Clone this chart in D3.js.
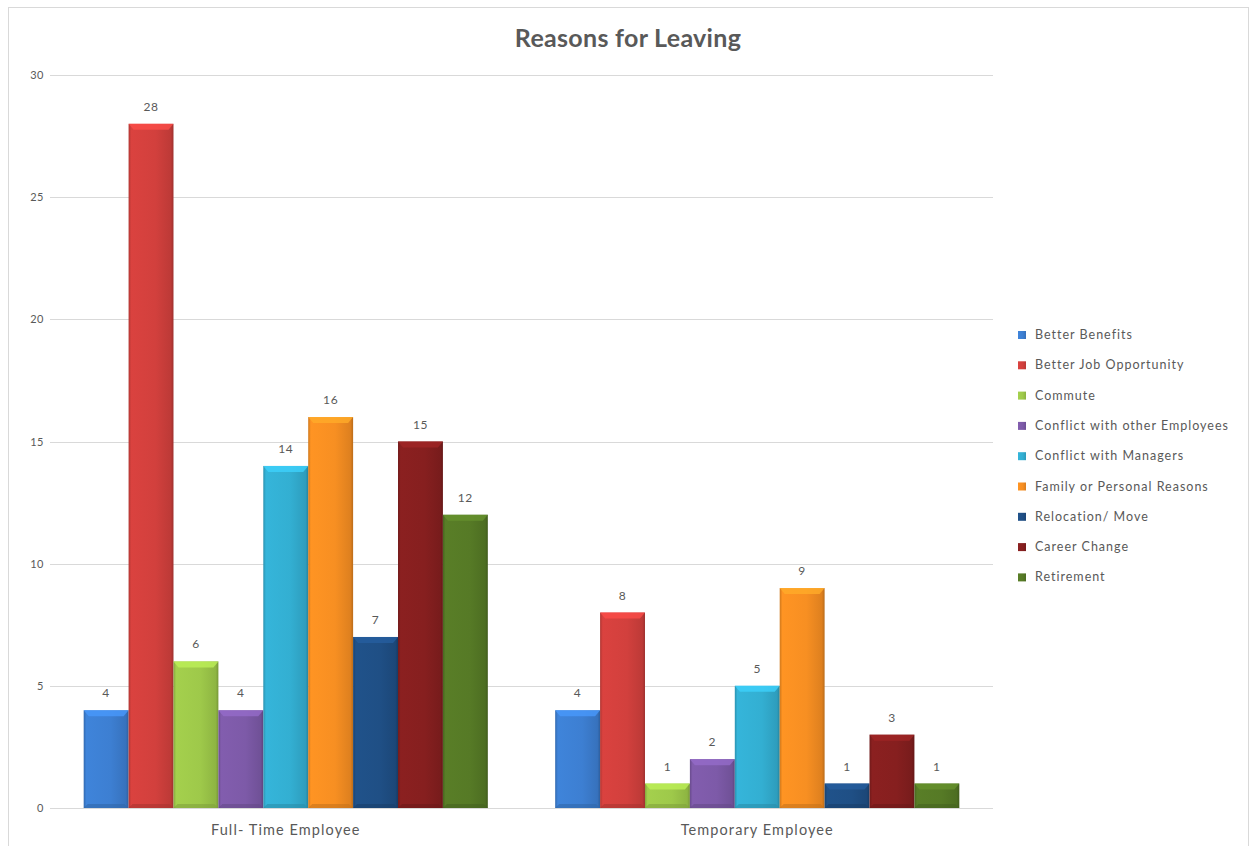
<!DOCTYPE html>
<html lang="en">
<head>
<meta charset="UTF-8">
<title>Reasons for Leaving</title>
<script src="https://cdn.jsdelivr.net/npm/d3@7"></script>
<style>
    body{ margin:0px; background:white; }
    text{ font-family: Lato, "Open Sans", sans-serif; }
</style>
</head>
<body>
<svg id="chart"></svg>
<script>
    const w = 1250, h = 846;

    // data
    const categories = ['Full- Time Employee', 'Temporary Employee'];
    const reasons = ['Better Benefits', 'Better Job Opportunity', 'Commute', 'Conflict with other Employees',
        'Conflict with Managers', 'Family or Personal Reasons', 'Relocation/ Move', 'Career Change', 'Retirement'];
    const fullTime = [4, 28, 6, 4, 14, 16, 7, 15, 12];
    const temporary = [4, 8, 1, 2, 5, 9, 1, 3, 1];
    const colors = ['#3d7fd2', '#d2403d', '#9ec94a', '#7d5aa8', '#33afd2', '#f78f22', '#1f4f85', '#861f1f', '#567a26'];
    const yTicks = [0, 5, 10, 15, 20, 25, 30];

    const series = [fullTime, temporary];

    const svg = d3.select('#chart').attr('width', w).attr('height', h);
    svg.append('rect').attr('x', 0).attr('y', 0).attr('width', w).attr('height', h).attr('fill', 'white');
    // chart border
    svg.append('rect').attr('x', 8.5).attr('y', 7.5).attr('width', w - 10).attr('height', h + 10)
        .attr('fill', 'none').attr('stroke', '#d9d9d9');

    const defs = svg.append('defs');
    colors.forEach(function(c, i){
        let g = defs.append('linearGradient').attr('id', 'grad' + i).attr('x1', 0).attr('x2', 1).attr('y1', 0).attr('y2', 0);
        let dark = d3.color(c).darker(0.5), light = d3.color(c).brighter(0.1);
        g.append('stop').attr('offset', '0%').attr('stop-color', dark);
        g.append('stop').attr('offset', '6%').attr('stop-color', light);
        g.append('stop').attr('offset', '60%').attr('stop-color', c);
        g.append('stop').attr('offset', '94%').attr('stop-color', d3.color(c).darker(0.3));
        g.append('stop').attr('offset', '100%').attr('stop-color', d3.color(c).darker(0.8));
    });

    const plot = {left: 50, right: 993, top: 75, bottom: 808};

    const x0 = d3.scaleBand().domain(categories).range([plot.left, plot.right]).paddingInner(0).paddingOuter(0);
    const x1 = d3.scaleBand().domain(reasons).range([0, x0.bandwidth()]).paddingOuter(0.75);
    const y = d3.scaleLinear().domain([0, 30]).range([plot.bottom, plot.top]);

    // gridlines
    svg.append('g').selectAll('line').data(yTicks).join('line')
        .attr('x1', plot.left).attr('x2', plot.right)
        .attr('y1', d => Math.round(y(d)) + 0.5).attr('y2', d => Math.round(y(d)) + 0.5)
        .attr('stroke', '#d9d9d9').attr('stroke-width', 1.2);

    // y axis labels
    const yAxis = d3.axisLeft(y).tickValues(yTicks).tickSize(0).tickPadding(6);
    const yg = svg.append('g').attr('transform', 'translate(' + plot.left + ',0)').call(yAxis);
    yg.select('.domain').remove();
    yg.selectAll('text').attr('font-size', '11px').attr('fill', '#595959').attr('letter-spacing', '0.5px');

    // x axis labels
    const xAxis = d3.axisBottom(x0).tickSize(0).tickPadding(17);
    const xg = svg.append('g').attr('transform', 'translate(0,' + plot.bottom + ')').call(xAxis);
    xg.select('.domain').remove();
    xg.selectAll('text').attr('font-size', '14.5px').attr('fill', '#595959').attr('letter-spacing', '1.1px');

    // bars
    const groups = svg.append('g').selectAll('g').data(categories).join('g')
        .attr('transform', d => 'translate(' + x0(d) + ',0)');

    groups.each(function(cat, ci){
        const g = d3.select(this);
        const vals = reasons.map((r, i) => ({r: r, i: i, v: series[ci][i]}));
        const bw = x1.bandwidth();
        const bars = g.selectAll('g.bar').data(vals).join('g').attr('class', 'bar');
        bars.append('rect')
            .attr('x', d => x1(d.r)).attr('y', d => y(d.v))
            .attr('width', bw).attr('height', d => y(0) - y(d.v))
            .attr('fill', d => 'url(#grad' + d.i + ')');
        // top bevel
        bars.append('path')
            .attr('d', function(d){
                let x = x1(d.r), t = y(d.v);
                return 'M' + x + ',' + t + 'L' + (x + bw) + ',' + t + 'L' + (x + bw - 5) + ',' + (t + 6) +
                    'L' + (x + 5) + ',' + (t + 6) + 'Z';
            })
            .attr('fill', d => d3.color(colors[d.i]).brighter(0.5)).attr('opacity', 0.8);
        // bottom bevel
        bars.append('path')
            .attr('d', function(d){
                let x = x1(d.r), b = y(0);
                return 'M' + x + ',' + b + 'L' + (x + bw) + ',' + b + 'L' + (x + bw - 4) + ',' + (b - 4) +
                    'L' + (x + 4) + ',' + (b - 4) + 'Z';
            })
            .attr('fill', d => d3.color(colors[d.i]).darker(0.6)).attr('opacity', 0.6);
        // value labels
        bars.append('text')
            .attr('x', d => x1(d.r) + bw / 2).attr('y', d => y(d.v) - 13)
            .attr('text-anchor', 'middle').attr('font-size', '12px').attr('fill', '#595959')
            .attr('letter-spacing', '0.6px')
            .text(d => d.v);
    });

    // title
    svg.append('text').attr('x', 628).attr('y', 47).attr('text-anchor', 'middle')
        .attr('font-size', '25px').attr('font-weight', 'bold').attr('fill', '#595959')
        .attr('letter-spacing', '0.3px')
        .text('Reasons for Leaving');

    // legend
    const leg = svg.append('g').selectAll('g').data(reasons).join('g')
        .attr('transform', (d, i) => 'translate(1018,' + (335 + i * 30.3) + ')');
    leg.append('rect').attr('x', 0).attr('y', -4).attr('width', 8).attr('height', 8)
        .attr('fill', (d, i) => 'url(#grad' + i + ')');
    leg.append('text').attr('x', 17).attr('y', 4).attr('font-size', '12.5px').attr('fill', '#595959')
        .attr('letter-spacing', '1px')
        .text(d => d);
</script>
</body>
</html>
